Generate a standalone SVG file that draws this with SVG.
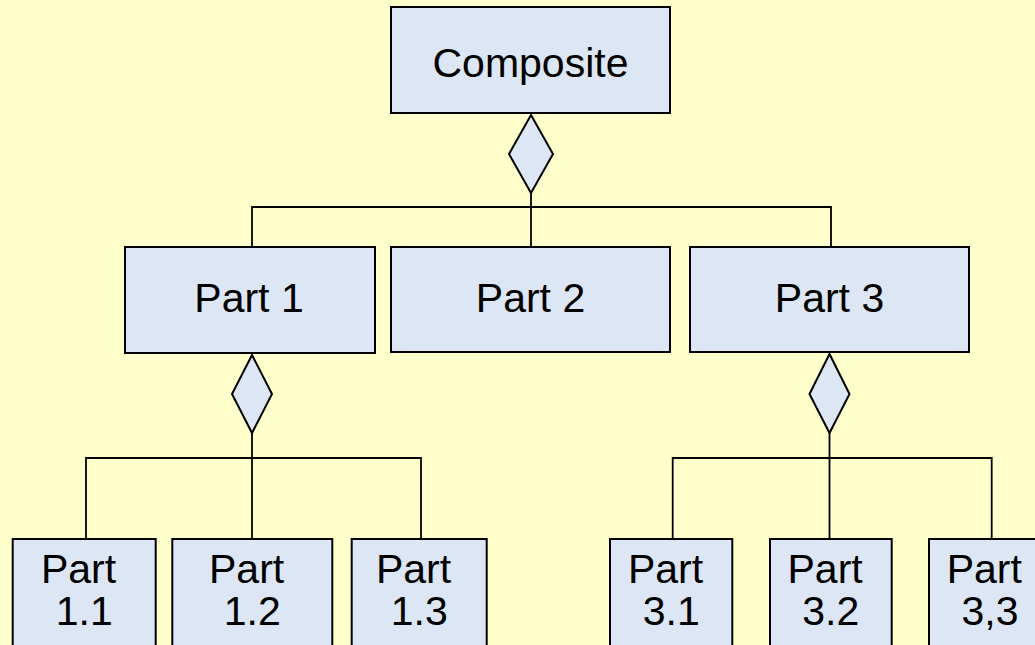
<svg xmlns="http://www.w3.org/2000/svg" width="1035" height="645" viewBox="0 0 1035 645">
  <style>
    .box { fill: #DCE6F4; stroke: #000; stroke-width: 2; }
    .agg { fill: #DCE6F4; stroke: #000; stroke-width: 2; stroke-linejoin: miter; }
    .lbl { font-family: "Liberation Sans", Arial, sans-serif; font-size: 41px; fill: #000; text-anchor: middle; }
    .wire { fill: none; stroke: #000; stroke-width: 1.8; }
  </style>
  <rect width="1035" height="645" fill="#FFFFCC"/>

  <!-- connectors -->
  <g id="connectors">
    <path class="wire" d="M252 247 V207 H831 V247 M531 193 V247"/>
    <path class="wire" d="M86 539 V458 H421 V539 M252 433 V539"/>
    <path class="wire" d="M672.7 539 V458 H991.7 V539 M829.5 433 V539"/>
    <!-- aggregation diamonds -->
    <polygon class="agg" points="531,115 553,154 531,193 509,154"/>
    <polygon class="agg" points="252,355 272,394 252,433 232,394"/>
    <polygon class="agg" points="829.5,354 849.5,394 829.5,433 809.5,394"/>
  </g>

  <g id="composite">
    <rect class="box" x="391" y="7" width="279" height="106"/>
    <text class="lbl" x="530.5" y="77" font-size="43">Composite</text>
  </g>

  <g id="part1">
    <rect class="box" x="125" y="247" width="250" height="106"/>
    <text class="lbl" x="249" y="312">Part 1</text>
  </g>
  <g id="part2">
    <rect class="box" x="391" y="247" width="279" height="105"/>
    <text class="lbl" x="530.5" y="312">Part 2</text>
  </g>
  <g id="part3">
    <rect class="box" x="690" y="247" width="279" height="105"/>
    <text class="lbl" x="829.5" y="312">Part 3</text>
  </g>

  <g id="part1_1">
    <rect class="box" x="12.7" y="539" width="143" height="120"/>
    <text class="lbl" x="78.5" y="583">Part</text>
    <text class="lbl" x="84.2" y="625">1.1</text>
  </g>
  <g id="part1_2">
    <rect class="box" x="172.3" y="539" width="160" height="120"/>
    <text class="lbl" x="246.6" y="583">Part</text>
    <text class="lbl" x="252.3" y="625">1.2</text>
  </g>
  <g id="part1_3">
    <rect class="box" x="351.7" y="539" width="135" height="120"/>
    <text class="lbl" x="413.5" y="583">Part</text>
    <text class="lbl" x="419.2" y="625">1.3</text>
  </g>

  <g id="part3_1">
    <rect class="box" x="610" y="539" width="122.3" height="120"/>
    <text class="lbl" x="665.5" y="583">Part</text>
    <text class="lbl" x="671.2" y="625">3.1</text>
  </g>
  <g id="part3_2">
    <rect class="box" x="770" y="539" width="121.7" height="120"/>
    <text class="lbl" x="825.1" y="583">Part</text>
    <text class="lbl" x="830.8" y="625">3.2</text>
  </g>
  <g id="part3_3">
    <rect class="box" x="929" y="539" width="122" height="120"/>
    <text class="lbl" x="984.3" y="583">Part</text>
    <text class="lbl" x="990" y="625">3,3</text>
  </g>
</svg>
